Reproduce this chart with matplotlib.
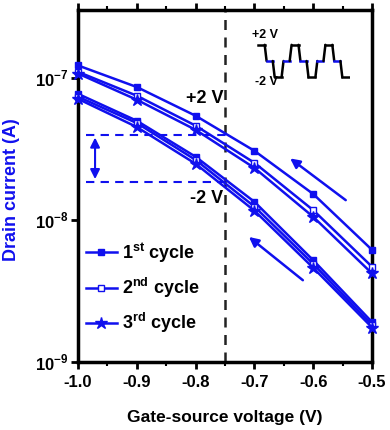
import matplotlib
matplotlib.use("Agg")
import matplotlib.pyplot as plt
import numpy as np

plt.rcParams['font.family'] = ['Liberation Sans', 'DejaVu Sans']
plt.rcParams['font.weight'] = 'bold'
plt.rcParams['mathtext.fontset'] = 'custom'
plt.rcParams['mathtext.rm'] = 'Liberation Sans:bold'
plt.rcParams['mathtext.bf'] = 'Liberation Sans:bold'

vgs = [-1.0, -0.9, -0.8, -0.7, -0.6, -0.5]
# +2 V branch
c1_up = [1.22e-7, 8.6e-8, 5.4e-8, 3.06e-8, 1.52e-8, 6.15e-9]
c2_up = [1.10e-7, 7.47e-8, 4.6e-8, 2.52e-8, 1.17e-8, 4.68e-9]
c3_up = [1.07e-7, 7.0e-8, 4.3e-8, 2.32e-8, 1.05e-8, 4.2e-9]
# -2 V branch
c1_dn = [7.7e-8, 4.98e-8, 2.78e-8, 1.34e-8, 5.2e-9, 1.91e-9]
c2_dn = [7.35e-8, 4.8e-8, 2.64e-8, 1.24e-8, 4.9e-9, 1.82e-9]
c3_dn = [7.1e-8, 4.5e-8, 2.48e-8, 1.16e-8, 4.6e-9, 1.75e-9]

legend_labels = [r'1$^{\mathbf{st}}$ cycle', r'2$^{\mathbf{nd}}$ cycle', r'3$^{\mathbf{rd}}$ cycle']
xticks = [-1.0, -0.9, -0.8, -0.7, -0.6, -0.5]
yticks = [1e-9, 1e-8, 1e-7]
ytick_labels = [r'10$^{\mathbf{-9}}$', r'10$^{\mathbf{-8}}$', r'10$^{\mathbf{-7}}$']
wave_levels = [1, 0, -1, 0, 1, 0, -1, 0, 1, 0, -1]

blue = '#1010ee'
fig = plt.figure(figsize=(3.9, 4.3), dpi=100)
ax = fig.add_axes([0.2, 0.158, 0.754, 0.819])
ax.set_yscale('log')

styles = [dict(marker='s', mfc=blue), dict(marker='s', mfc='white'), dict(marker='*', mfc=blue)]
ups = [c1_up, c2_up, c3_up]
dns = [c1_dn, c2_dn, c3_dn]
for i in range(3):
    st = styles[i]
    ms = 9 if st['marker'] == '*' else 5
    ax.plot(vgs, ups[i], color=blue, lw=1.8, marker=st['marker'], mfc=st['mfc'], mec=blue,
            ms=ms, mew=1.0, label=legend_labels[i], clip_on=False, zorder=3)
    ax.plot(vgs, dns[i], color=blue, lw=1.8, marker=st['marker'], mfc=st['mfc'], mec=blue,
            ms=ms, mew=1.0, clip_on=False, zorder=3)

ax.set_xlim(-1.0, -0.5)
ax.set_ylim(1e-9, 3e-7)

# vertical dashed line
ax.axvline(-0.75, color='#222222', lw=1.8, ls=(0, (4, 3)), zorder=2)
# horizontal blue dashed
for yv in [3.97e-8, 1.85e-8]:
    ax.plot([-0.986, -0.743], [yv, yv], color=blue, lw=1.5, ls=(0, (4, 3)), zorder=2)
ax.annotate('', xy=(-0.971, 3.97e-8), xytext=(-0.971, 1.85e-8),
            arrowprops=dict(arrowstyle='<|-|>', color=blue, lw=1.5, mutation_scale=14))
# direction arrows
ax.annotate('', xy=(-0.643, 2.78e-8), xytext=(-0.541, 1.34e-8),
            arrowprops=dict(arrowstyle='-|>', color=blue, lw=1.8, mutation_scale=14))
ax.annotate('', xy=(-0.713, 7.8e-9), xytext=(-0.614, 3.66e-9),
            arrowprops=dict(arrowstyle='-|>', color=blue, lw=1.8, mutation_scale=14))

ax.text(-0.753, 7.1e-8, '+2 V', fontsize=13, fontweight='bold', ha='right', va='center')
ax.text(-0.753, 1.41e-8, '-2 V', fontsize=13, fontweight='bold', ha='right', va='center')

# ticks
ax.set_xticks(xticks)
ax.set_xticklabels(['%.1f' % v for v in xticks], fontsize=12, fontweight='bold')
ax.set_xticks(np.arange(-0.95, -0.5, 0.1), minor=True)
ax.set_yticks(yticks)
ax.set_yticklabels(ytick_labels, fontsize=12)
ax.yaxis.set_minor_locator(matplotlib.ticker.NullLocator())
ax.tick_params(axis='x', which='major', direction='out', length=5, width=2, top=True, pad=4)
ax.tick_params(axis='x', which='minor', direction='out', length=3, width=1.5, top=True)
ax.tick_params(axis='y', which='major', direction='out', length=5, width=2, pad=2)
for s in ax.spines.values():
    s.set_linewidth(2.5)

ax.set_xlabel('Gate-source voltage (V)', fontsize=12.5, fontweight='bold', labelpad=15)
ax.set_ylabel('Drain current (A)', fontsize=13, fontweight='bold', color=blue)
ax.yaxis.set_label_coords(-0.197, 0.489)

leg = ax.legend(loc='lower left', bbox_to_anchor=(-0.01, 0.045), frameon=False, fontsize=13,
                handlelength=1.7, handletextpad=0.3, labelspacing=0.62, borderaxespad=0.2)

# inset waveform
iax = fig.add_axes([257/390, 1-82/430, 93/390, 42/430])
iax.axis('off')
x = 0.0
prev = None
for lv in wave_levels:
    w = 0.9 if lv != 0 else 0.8
    if prev is not None:
        iax.plot([x, x + 0.25], [prev, lv], color='black', lw=1.8, solid_capstyle='round')
        x += 0.25
    iax.plot([x, x + w], [lv, lv], color=(blue if lv == 0 else 'black'), lw=1.8)
    x += w
    prev = lv
iax.set_xlim(-0.1, x + 0.1)
iax.set_ylim(-1.3, 1.3)
fig.text(252/390, 1-35/430, '+2 V', fontsize=9, ha='left', va='center')
fig.text(255/390, 1-82/430, '-2 V', fontsize=9, ha='left', va='center')

fig.savefig('out.png', dpi=100)
